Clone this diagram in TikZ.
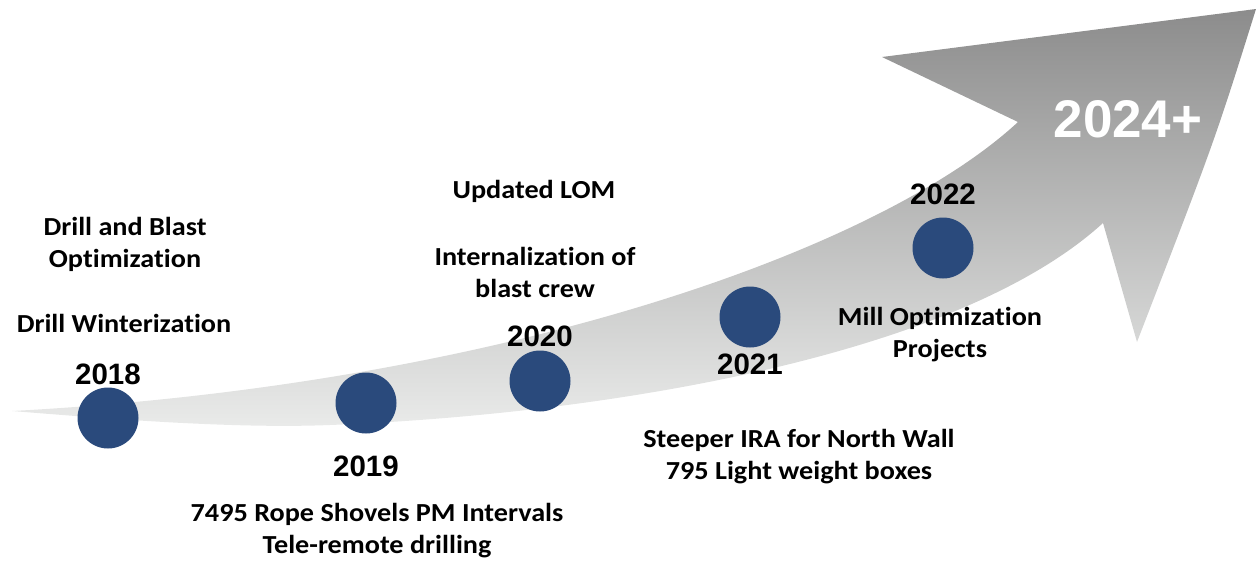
\documentclass[tikz,border=0pt]{standalone}
\usepackage{fontspec}
\setmainfont{Carlito}[FakeStretch=1.085, Ligatures=NoCommon]
\newfontfamily\yearfont{Liberation Sans}
\usetikzlibrary{positioning}
\definecolor{dotblue}{RGB}{42,74,124}
\definecolor{headgray}{RGB}{140,140,140}
\definecolor{tailgray}{RGB}{234,235,234}

\begin{document}
\begin{tikzpicture}[x=1pt, y=-1pt,
        milestone/.style={circle, fill=dotblue, minimum size=61pt, inner sep=0pt},
        year/.style={font=\yearfont\bfseries\fontsize{29.5}{30}\selectfont, inner sep=0pt},
        note/.style={font=\bfseries\fontsize{26}{32}\selectfont, align=center, inner sep=0pt},
    ]
    \useasboundingbox (0,0) rectangle (1256,560);

    % the growth arrow
    \shade[top color=headgray, bottom color=tailgray]
        (12,411) .. controls (500,385) and (880,250) .. (1018,122)
        -- (882,57) -- (1256,9)
        .. controls (1215,140) .. (1137,342)
        -- (1103,223) .. controls (953,360) and (590,415) .. (330,425)
        .. controls (230,429) and (100,418) .. (12,411) -- cycle;

    \node[font=\yearfont\bfseries\fontsize{53}{53}\selectfont, text=white] (future) at (1128,119) {2024+};

    \node[milestone] (m2018) at (108,418) {};
    \node[milestone] (m2019) at (366,403) {};
    \node[milestone] (m2020) at (540,381) {};
    \node[milestone] (m2021) at (750,317) {};
    \node[milestone] (m2022) at (943,248) {};

    \node[year] (y2018) [above=2pt of m2018] {2018};
    \node[year] (y2019) [below=22pt of m2019] {2019};
    \node[year] (y2020) [above=3pt of m2020] {2020};
    \node[year] (y2021) [below=6pt of m2021] {2021};
    \node[year] (y2022) [above=12pt of m2022] {2022};

    \node[note] (drill) at (125,244) {Drill and Blast\\Optimization};
    \node[note] (winter) at (124,323) {Drill Winterization};
    \node[note] (lom) at (534,191) {Updated LOM};
    \node[note] (crew) at (535,272) {Internalization of\\blast crew};
    \node[note] (mill) at (940,335) {Mill Optimization\\Projects};
    \node[note] (wall) at (799,457) {Steeper IRA for North Wall\\795 Light weight boxes};
    \node[note] (shovels) at (377,531) {7495 Rope Shovels PM Intervals\\Tele-remote drilling};
\end{tikzpicture}
\end{document}
